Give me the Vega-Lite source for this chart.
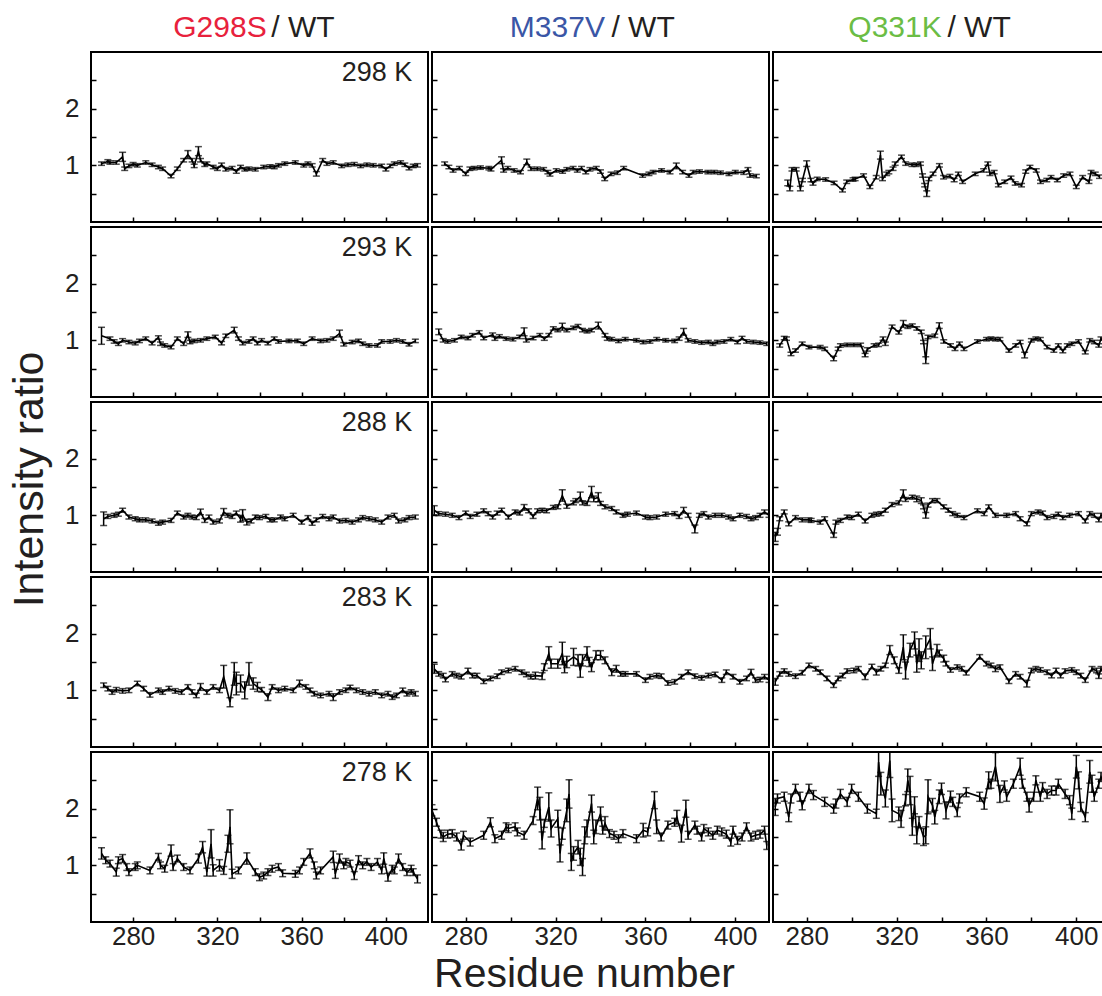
{
"$schema":"https://vega.github.io/schema/vega-lite/v6.json",
"padding":{"left":7,"top":12,"right":0,"bottom":0},
"config":{"font":"Liberation Sans","view":{"stroke":"black","strokeWidth":2},
"axis":{"domain":false,"grid":false,"tickColor":"black","tickSize":-5,"tickWidth":1.5,"labelFontSize":26,"labelColor":"#231f20","titleFontWeight":"normal","titleColor":"#231f20","labelFont":"Liberation Sans","titleFont":"Liberation Sans"},
"axisX":{"labelPadding":6},"axisY":{"labelPadding":17},
"line":{"color":"black","strokeWidth":1.6,"clip":true},
"text":{"baseline":"middle","color":"#231f20"}},
"datasets":{
"G298":[{"r":265,"v":1.03,"e":0.03},{"r":268,"v":1.07,"e":0.03},{"r":269,"v":1.05,"e":0.03},{"r":272,"v":1.05,"e":0.03},{"r":275,"v":1.15,"e":0.08},{"r":276,"v":0.94,"e":0.03},{"r":278,"v":0.99,"e":0.03},{"r":280,"v":1.02,"e":0.03},{"r":282,"v":1.0,"e":0.03},{"r":286,"v":1.05,"e":0.03},{"r":289,"v":1.01,"e":0.03},{"r":292,"v":0.97,"e":0.03},{"r":294,"v":0.94,"e":0.03},{"r":298,"v":0.81,"e":0.03},{"r":301,"v":0.94,"e":0.03},{"r":304,"v":1.09,"e":0.03},{"r":306,"v":1.19,"e":0.07},{"r":308,"v":1.09,"e":0.03},{"r":309,"v":0.99,"e":0.03},{"r":311,"v":1.25,"e":0.08},{"r":312,"v":1.09,"e":0.03},{"r":314,"v":1.01,"e":0.03},{"r":315,"v":1.03,"e":0.03},{"r":318,"v":0.97,"e":0.03},{"r":320,"v":0.94,"e":0.03},{"r":322,"v":1.01,"e":0.03},{"r":324,"v":0.93,"e":0.03},{"r":327,"v":0.95,"e":0.03},{"r":329,"v":0.89,"e":0.03},{"r":331,"v":0.97,"e":0.03},{"r":333,"v":0.93,"e":0.03},{"r":335,"v":0.94,"e":0.03},{"r":338,"v":0.93,"e":0.03},{"r":342,"v":0.97,"e":0.03},{"r":345,"v":0.98,"e":0.03},{"r":347,"v":0.97,"e":0.03},{"r":349,"v":1.0,"e":0.03},{"r":352,"v":1.03,"e":0.03},{"r":357,"v":1.05,"e":0.03},{"r":361,"v":1.0,"e":0.03},{"r":363,"v":1.03,"e":0.03},{"r":365,"v":1.0,"e":0.03},{"r":367,"v":0.85,"e":0.04},{"r":370,"v":1.09,"e":0.03},{"r":372,"v":1.03,"e":0.03},{"r":375,"v":1.05,"e":0.03},{"r":379,"v":0.99,"e":0.03},{"r":382,"v":1.01,"e":0.03},{"r":385,"v":1.02,"e":0.03},{"r":388,"v":0.99,"e":0.03},{"r":391,"v":1.01,"e":0.03},{"r":394,"v":1.0,"e":0.03},{"r":398,"v":0.99,"e":0.03},{"r":400,"v":0.93,"e":0.03},{"r":402,"v":0.99,"e":0.03},{"r":404,"v":1.03,"e":0.03},{"r":407,"v":1.05,"e":0.03},{"r":409,"v":1.01,"e":0.03},{"r":411,"v":0.95,"e":0.03},{"r":413,"v":0.99,"e":0.03},{"r":415,"v":1.0,"e":0.03}],
"G293":[{"r":265,"v":1.08,"e":0.15},{"r":269,"v":1.03,"e":0.03},{"r":271,"v":0.98,"e":0.03},{"r":273,"v":0.94,"e":0.03},{"r":275,"v":1.0,"e":0.03},{"r":278,"v":0.97,"e":0.03},{"r":281,"v":0.95,"e":0.03},{"r":283,"v":0.99,"e":0.03},{"r":286,"v":1.03,"e":0.03},{"r":289,"v":0.95,"e":0.03},{"r":292,"v":1.05,"e":0.03},{"r":293,"v":0.94,"e":0.03},{"r":295,"v":0.91,"e":0.03},{"r":298,"v":0.88,"e":0.03},{"r":301,"v":1.03,"e":0.03},{"r":304,"v":0.94,"e":0.03},{"r":306,"v":1.1,"e":0.05},{"r":307,"v":0.97,"e":0.03},{"r":309,"v":0.99,"e":0.03},{"r":312,"v":1.0,"e":0.03},{"r":315,"v":1.03,"e":0.03},{"r":319,"v":1.06,"e":0.03},{"r":322,"v":0.95,"e":0.03},{"r":324,"v":1.08,"e":0.03},{"r":328,"v":1.18,"e":0.05},{"r":330,"v":1.03,"e":0.03},{"r":332,"v":0.95,"e":0.03},{"r":335,"v":0.98,"e":0.03},{"r":337,"v":1.03,"e":0.03},{"r":339,"v":0.95,"e":0.03},{"r":341,"v":1.0,"e":0.03},{"r":344,"v":0.95,"e":0.03},{"r":347,"v":1.03,"e":0.03},{"r":349,"v":0.98,"e":0.03},{"r":354,"v":0.99,"e":0.03},{"r":358,"v":0.99,"e":0.03},{"r":361,"v":0.94,"e":0.03},{"r":365,"v":1.03,"e":0.03},{"r":369,"v":0.99,"e":0.03},{"r":372,"v":1.0,"e":0.03},{"r":375,"v":1.03,"e":0.03},{"r":378,"v":1.12,"e":0.06},{"r":380,"v":0.93,"e":0.03},{"r":384,"v":0.97,"e":0.03},{"r":387,"v":0.99,"e":0.03},{"r":389,"v":0.94,"e":0.03},{"r":392,"v":0.91,"e":0.03},{"r":396,"v":0.91,"e":0.03},{"r":398,"v":0.98,"e":0.03},{"r":402,"v":0.98,"e":0.03},{"r":405,"v":1.0,"e":0.03},{"r":408,"v":0.98,"e":0.03},{"r":411,"v":0.93,"e":0.03},{"r":414,"v":0.99,"e":0.03}],
"G288":[{"r":266,"v":0.94,"e":0.12},{"r":268,"v":0.98,"e":0.035},{"r":271,"v":1.0,"e":0.035},{"r":273,"v":1.02,"e":0.035},{"r":275,"v":1.09,"e":0.035},{"r":278,"v":0.97,"e":0.035},{"r":281,"v":0.94,"e":0.035},{"r":283,"v":0.92,"e":0.035},{"r":286,"v":0.92,"e":0.035},{"r":289,"v":0.9,"e":0.035},{"r":292,"v":0.86,"e":0.035},{"r":294,"v":0.88,"e":0.035},{"r":298,"v":0.91,"e":0.035},{"r":301,"v":1.04,"e":0.035},{"r":304,"v":0.97,"e":0.035},{"r":306,"v":1.0,"e":0.035},{"r":308,"v":0.97,"e":0.035},{"r":310,"v":0.96,"e":0.035},{"r":312,"v":1.06,"e":0.05},{"r":314,"v":0.91,"e":0.035},{"r":316,"v":0.97,"e":0.035},{"r":318,"v":0.88,"e":0.035},{"r":321,"v":0.9,"e":0.035},{"r":323,"v":1.06,"e":0.06},{"r":325,"v":1.0,"e":0.035},{"r":327,"v":0.98,"e":0.035},{"r":329,"v":1.04,"e":0.035},{"r":331,"v":0.94,"e":0.06},{"r":332,"v":1.0,"e":0.1},{"r":334,"v":0.88,"e":0.05},{"r":336,"v":0.9,"e":0.035},{"r":338,"v":0.97,"e":0.035},{"r":340,"v":0.96,"e":0.035},{"r":343,"v":0.98,"e":0.035},{"r":345,"v":0.92,"e":0.035},{"r":347,"v":0.92,"e":0.035},{"r":350,"v":0.97,"e":0.035},{"r":352,"v":0.94,"e":0.035},{"r":356,"v":1.0,"e":0.035},{"r":360,"v":0.88,"e":0.035},{"r":363,"v":0.96,"e":0.035},{"r":365,"v":0.86,"e":0.035},{"r":367,"v":0.92,"e":0.035},{"r":370,"v":0.98,"e":0.035},{"r":373,"v":0.94,"e":0.035},{"r":375,"v":0.97,"e":0.035},{"r":378,"v":0.9,"e":0.035},{"r":381,"v":0.91,"e":0.035},{"r":384,"v":0.88,"e":0.035},{"r":387,"v":0.92,"e":0.035},{"r":389,"v":0.96,"e":0.035},{"r":392,"v":0.94,"e":0.035},{"r":395,"v":0.92,"e":0.035},{"r":398,"v":0.88,"e":0.035},{"r":401,"v":0.97,"e":0.035},{"r":404,"v":1.0,"e":0.035},{"r":406,"v":0.9,"e":0.035},{"r":409,"v":0.92,"e":0.035},{"r":411,"v":0.96,"e":0.035},{"r":414,"v":0.97,"e":0.035}],
"G283":[{"r":266,"v":1.09,"e":0.04},{"r":268,"v":1.03,"e":0.04},{"r":270,"v":0.97,"e":0.04},{"r":272,"v":1.01,"e":0.04},{"r":275,"v":0.99,"e":0.04},{"r":278,"v":1.0,"e":0.04},{"r":282,"v":1.12,"e":0.04},{"r":285,"v":1.03,"e":0.04},{"r":288,"v":0.92,"e":0.04},{"r":292,"v":1.0,"e":0.04},{"r":294,"v":0.97,"e":0.04},{"r":297,"v":1.03,"e":0.04},{"r":300,"v":0.99,"e":0.04},{"r":303,"v":0.97,"e":0.04},{"r":306,"v":1.06,"e":0.04},{"r":308,"v":0.97,"e":0.04},{"r":310,"v":0.91,"e":0.04},{"r":312,"v":1.06,"e":0.06},{"r":315,"v":0.97,"e":0.04},{"r":318,"v":1.06,"e":0.04},{"r":321,"v":1.0,"e":0.04},{"r":323,"v":1.24,"e":0.2},{"r":326,"v":0.79,"e":0.08},{"r":328,"v":1.29,"e":0.2},{"r":329,"v":1.12,"e":0.2},{"r":331,"v":1.12,"e":0.15},{"r":333,"v":1.0,"e":0.15},{"r":335,"v":1.29,"e":0.2},{"r":337,"v":1.12,"e":0.1},{"r":339,"v":1.06,"e":0.08},{"r":341,"v":1.01,"e":0.04},{"r":344,"v":0.88,"e":0.06},{"r":346,"v":1.06,"e":0.04},{"r":349,"v":1.0,"e":0.04},{"r":352,"v":1.03,"e":0.04},{"r":356,"v":1.0,"e":0.04},{"r":359,"v":1.12,"e":0.06},{"r":362,"v":1.06,"e":0.04},{"r":364,"v":1.0,"e":0.04},{"r":366,"v":0.94,"e":0.04},{"r":369,"v":0.91,"e":0.04},{"r":373,"v":0.94,"e":0.04},{"r":375,"v":0.88,"e":0.06},{"r":378,"v":0.97,"e":0.04},{"r":381,"v":1.0,"e":0.04},{"r":383,"v":1.05,"e":0.04},{"r":386,"v":1.0,"e":0.04},{"r":389,"v":0.97,"e":0.04},{"r":392,"v":0.94,"e":0.04},{"r":395,"v":0.97,"e":0.04},{"r":398,"v":0.91,"e":0.04},{"r":401,"v":0.94,"e":0.04},{"r":403,"v":0.88,"e":0.04},{"r":405,"v":0.91,"e":0.04},{"r":408,"v":1.0,"e":0.04},{"r":410,"v":0.94,"e":0.04},{"r":412,"v":0.97,"e":0.04},{"r":414,"v":0.94,"e":0.04}],
"G278":[{"r":265,"v":1.21,"e":0.1},{"r":267,"v":1.09,"e":0.06},{"r":269,"v":1.03,"e":0.06},{"r":272,"v":0.88,"e":0.07},{"r":273,"v":1.09,"e":0.06},{"r":275,"v":1.12,"e":0.07},{"r":277,"v":0.97,"e":0.06},{"r":278,"v":0.88,"e":0.06},{"r":281,"v":0.97,"e":0.06},{"r":282,"v":1.0,"e":0.06},{"r":288,"v":0.91,"e":0.06},{"r":292,"v":1.15,"e":0.06},{"r":293,"v":1.0,"e":0.06},{"r":295,"v":0.94,"e":0.06},{"r":298,"v":1.26,"e":0.1},{"r":299,"v":0.97,"e":0.06},{"r":301,"v":1.12,"e":0.06},{"r":304,"v":0.97,"e":0.06},{"r":307,"v":0.91,"e":0.06},{"r":311,"v":1.12,"e":0.08},{"r":313,"v":1.32,"e":0.1},{"r":315,"v":0.88,"e":0.07},{"r":317,"v":1.38,"e":0.25},{"r":318,"v":0.91,"e":0.1},{"r":321,"v":1.0,"e":0.1},{"r":323,"v":0.91,"e":0.07},{"r":325,"v":1.38,"e":0.15},{"r":326,"v":1.68,"e":0.3},{"r":327,"v":0.85,"e":0.08},{"r":330,"v":0.91,"e":0.06},{"r":334,"v":1.12,"e":0.1},{"r":338,"v":0.88,"e":0.06},{"r":340,"v":0.79,"e":0.06},{"r":342,"v":0.82,"e":0.06},{"r":344,"v":0.88,"e":0.06},{"r":346,"v":0.94,"e":0.06},{"r":349,"v":0.97,"e":0.06},{"r":351,"v":0.86,"e":0.06},{"r":357,"v":0.85,"e":0.06},{"r":359,"v":0.91,"e":0.06},{"r":361,"v":1.06,"e":0.06},{"r":364,"v":1.21,"e":0.08},{"r":366,"v":1.0,"e":0.06},{"r":367,"v":0.82,"e":0.06},{"r":369,"v":0.91,"e":0.06},{"r":375,"v":1.15,"e":0.1},{"r":376,"v":0.85,"e":0.08},{"r":378,"v":1.12,"e":0.08},{"r":380,"v":1.0,"e":0.06},{"r":381,"v":1.06,"e":0.06},{"r":383,"v":1.03,"e":0.06},{"r":385,"v":0.82,"e":0.07},{"r":387,"v":1.09,"e":0.08},{"r":389,"v":1.0,"e":0.06},{"r":391,"v":1.06,"e":0.06},{"r":393,"v":0.97,"e":0.06},{"r":396,"v":1.06,"e":0.06},{"r":398,"v":0.91,"e":0.06},{"r":399,"v":1.12,"e":0.1},{"r":401,"v":0.79,"e":0.07},{"r":403,"v":0.94,"e":0.06},{"r":404,"v":0.91,"e":0.06},{"r":406,"v":1.12,"e":0.08},{"r":408,"v":0.97,"e":0.06},{"r":410,"v":0.88,"e":0.06},{"r":412,"v":0.94,"e":0.06},{"r":413,"v":0.88,"e":0.06},{"r":415,"v":0.76,"e":0.07}],
"M298":[{"r":266,"v":1.03,"e":0.03},{"r":268,"v":0.97,"e":0.03},{"r":270,"v":0.91,"e":0.03},{"r":273,"v":0.95,"e":0.03},{"r":276,"v":0.85,"e":0.03},{"r":278,"v":0.94,"e":0.03},{"r":280,"v":0.95,"e":0.03},{"r":283,"v":0.96,"e":0.03},{"r":287,"v":0.95,"e":0.03},{"r":288,"v":0.93,"e":0.03},{"r":293,"v":1.09,"e":0.06},{"r":294,"v":0.91,"e":0.03},{"r":296,"v":0.95,"e":0.03},{"r":299,"v":0.91,"e":0.03},{"r":302,"v":0.88,"e":0.03},{"r":305,"v":1.06,"e":0.05},{"r":307,"v":0.94,"e":0.03},{"r":310,"v":0.94,"e":0.03},{"r":313,"v":0.93,"e":0.03},{"r":315,"v":0.88,"e":0.03},{"r":316,"v":0.84,"e":0.03},{"r":319,"v":0.91,"e":0.03},{"r":322,"v":0.89,"e":0.03},{"r":324,"v":0.93,"e":0.03},{"r":327,"v":0.95,"e":0.03},{"r":329,"v":0.91,"e":0.03},{"r":331,"v":0.95,"e":0.03},{"r":333,"v":0.88,"e":0.03},{"r":335,"v":0.93,"e":0.03},{"r":338,"v":0.95,"e":0.03},{"r":340,"v":0.89,"e":0.03},{"r":342,"v":0.76,"e":0.03},{"r":345,"v":0.85,"e":0.03},{"r":348,"v":0.87,"e":0.03},{"r":351,"v":0.95,"e":0.03},{"r":360,"v":0.82,"e":0.03},{"r":363,"v":0.85,"e":0.03},{"r":365,"v":0.88,"e":0.03},{"r":369,"v":0.91,"e":0.03},{"r":373,"v":0.88,"e":0.03},{"r":376,"v":0.99,"e":0.05},{"r":379,"v":0.88,"e":0.03},{"r":382,"v":0.82,"e":0.03},{"r":384,"v":0.88,"e":0.03},{"r":387,"v":0.89,"e":0.03},{"r":391,"v":0.88,"e":0.03},{"r":394,"v":0.88,"e":0.03},{"r":397,"v":0.87,"e":0.03},{"r":401,"v":0.85,"e":0.03},{"r":404,"v":0.88,"e":0.03},{"r":408,"v":0.87,"e":0.03},{"r":410,"v":0.93,"e":0.03},{"r":411,"v":0.82,"e":0.03},{"r":414,"v":0.81,"e":0.03}],
"M293":[{"r":268,"v":1.15,"e":0.05},{"r":270,"v":1.0,"e":0.03},{"r":272,"v":0.98,"e":0.03},{"r":275,"v":1.0,"e":0.03},{"r":278,"v":1.06,"e":0.03},{"r":281,"v":1.04,"e":0.03},{"r":283,"v":1.09,"e":0.03},{"r":286,"v":1.14,"e":0.03},{"r":288,"v":1.04,"e":0.03},{"r":292,"v":1.1,"e":0.03},{"r":293,"v":1.03,"e":0.03},{"r":295,"v":1.07,"e":0.03},{"r":298,"v":1.03,"e":0.03},{"r":301,"v":1.02,"e":0.03},{"r":304,"v":1.06,"e":0.03},{"r":306,"v":1.15,"e":0.07},{"r":307,"v":1.0,"e":0.03},{"r":310,"v":1.04,"e":0.03},{"r":313,"v":1.09,"e":0.03},{"r":315,"v":1.03,"e":0.03},{"r":317,"v":1.09,"e":0.03},{"r":319,"v":1.21,"e":0.03},{"r":321,"v":1.18,"e":0.03},{"r":323,"v":1.24,"e":0.06},{"r":325,"v":1.18,"e":0.03},{"r":328,"v":1.22,"e":0.03},{"r":330,"v":1.25,"e":0.03},{"r":332,"v":1.18,"e":0.03},{"r":334,"v":1.16,"e":0.03},{"r":336,"v":1.18,"e":0.03},{"r":339,"v":1.26,"e":0.06},{"r":342,"v":1.09,"e":0.03},{"r":343,"v":1.03,"e":0.03},{"r":345,"v":1.02,"e":0.03},{"r":348,"v":0.99,"e":0.03},{"r":351,"v":1.02,"e":0.03},{"r":356,"v":1.0,"e":0.03},{"r":359,"v":0.97,"e":0.03},{"r":362,"v":0.98,"e":0.03},{"r":365,"v":1.02,"e":0.03},{"r":369,"v":1.0,"e":0.03},{"r":373,"v":0.99,"e":0.03},{"r":375,"v":1.03,"e":0.03},{"r":377,"v":1.15,"e":0.06},{"r":379,"v":1.0,"e":0.03},{"r":382,"v":0.98,"e":0.03},{"r":385,"v":0.96,"e":0.03},{"r":388,"v":0.97,"e":0.03},{"r":390,"v":0.94,"e":0.03},{"r":392,"v":0.97,"e":0.03},{"r":395,"v":0.98,"e":0.03},{"r":398,"v":1.02,"e":0.03},{"r":401,"v":0.97,"e":0.03},{"r":403,"v":1.04,"e":0.03},{"r":405,"v":0.98,"e":0.03},{"r":408,"v":0.97,"e":0.03},{"r":411,"v":0.96,"e":0.03},{"r":414,"v":0.94,"e":0.03}],
"M288":[{"r":266,"v":1.09,"e":0.08},{"r":268,"v":1.03,"e":0.035},{"r":271,"v":1.02,"e":0.035},{"r":274,"v":1.0,"e":0.035},{"r":277,"v":0.96,"e":0.035},{"r":280,"v":1.04,"e":0.035},{"r":282,"v":0.98,"e":0.035},{"r":285,"v":1.02,"e":0.035},{"r":288,"v":1.08,"e":0.035},{"r":290,"v":1.03,"e":0.035},{"r":292,"v":0.97,"e":0.035},{"r":294,"v":1.04,"e":0.035},{"r":296,"v":1.09,"e":0.035},{"r":299,"v":0.97,"e":0.035},{"r":302,"v":1.06,"e":0.035},{"r":304,"v":1.04,"e":0.035},{"r":306,"v":1.14,"e":0.05},{"r":308,"v":1.08,"e":0.035},{"r":310,"v":0.98,"e":0.035},{"r":312,"v":1.08,"e":0.035},{"r":314,"v":1.09,"e":0.035},{"r":316,"v":1.08,"e":0.035},{"r":319,"v":1.14,"e":0.035},{"r":321,"v":1.15,"e":0.035},{"r":323,"v":1.35,"e":0.1},{"r":325,"v":1.16,"e":0.035},{"r":328,"v":1.22,"e":0.035},{"r":329,"v":1.26,"e":0.035},{"r":331,"v":1.33,"e":0.08},{"r":332,"v":1.22,"e":0.035},{"r":334,"v":1.21,"e":0.035},{"r":336,"v":1.41,"e":0.1},{"r":337,"v":1.29,"e":0.05},{"r":339,"v":1.32,"e":0.08},{"r":340,"v":1.21,"e":0.035},{"r":342,"v":1.15,"e":0.035},{"r":345,"v":1.12,"e":0.035},{"r":347,"v":1.06,"e":0.035},{"r":350,"v":1.0,"e":0.035},{"r":352,"v":1.02,"e":0.035},{"r":356,"v":1.04,"e":0.035},{"r":360,"v":0.97,"e":0.035},{"r":362,"v":0.96,"e":0.035},{"r":365,"v":0.97,"e":0.035},{"r":369,"v":1.02,"e":0.035},{"r":373,"v":1.03,"e":0.035},{"r":375,"v":0.98,"e":0.035},{"r":377,"v":1.09,"e":0.05},{"r":379,"v":1.0,"e":0.035},{"r":382,"v":0.76,"e":0.07},{"r":384,"v":1.0,"e":0.035},{"r":386,"v":1.03,"e":0.035},{"r":388,"v":0.97,"e":0.035},{"r":391,"v":1.0,"e":0.035},{"r":394,"v":1.0,"e":0.035},{"r":397,"v":0.97,"e":0.035},{"r":399,"v":0.94,"e":0.035},{"r":402,"v":1.0,"e":0.035},{"r":405,"v":0.98,"e":0.035},{"r":407,"v":0.94,"e":0.035},{"r":409,"v":0.96,"e":0.035},{"r":411,"v":1.0,"e":0.035},{"r":413,"v":1.06,"e":0.035},{"r":415,"v":1.0,"e":0.035}],
"M283":[{"r":266,"v":1.38,"e":0.08},{"r":268,"v":1.29,"e":0.04},{"r":270,"v":1.26,"e":0.04},{"r":271,"v":1.19,"e":0.04},{"r":274,"v":1.29,"e":0.04},{"r":276,"v":1.26,"e":0.04},{"r":278,"v":1.24,"e":0.04},{"r":281,"v":1.34,"e":0.05},{"r":283,"v":1.26,"e":0.04},{"r":285,"v":1.26,"e":0.04},{"r":288,"v":1.16,"e":0.04},{"r":291,"v":1.21,"e":0.04},{"r":294,"v":1.25,"e":0.04},{"r":296,"v":1.32,"e":0.04},{"r":299,"v":1.35,"e":0.04},{"r":302,"v":1.38,"e":0.04},{"r":305,"v":1.32,"e":0.04},{"r":307,"v":1.28,"e":0.04},{"r":309,"v":1.24,"e":0.04},{"r":311,"v":1.26,"e":0.06},{"r":314,"v":1.25,"e":0.06},{"r":315,"v":1.41,"e":0.06},{"r":317,"v":1.65,"e":0.12},{"r":318,"v":1.47,"e":0.08},{"r":321,"v":1.47,"e":0.08},{"r":323,"v":1.65,"e":0.2},{"r":324,"v":1.41,"e":0.1},{"r":325,"v":1.5,"e":0.1},{"r":328,"v":1.59,"e":0.15},{"r":330,"v":1.53,"e":0.1},{"r":331,"v":1.35,"e":0.12},{"r":332,"v":1.53,"e":0.1},{"r":334,"v":1.65,"e":0.12},{"r":335,"v":1.5,"e":0.08},{"r":336,"v":1.41,"e":0.08},{"r":338,"v":1.62,"e":0.08},{"r":340,"v":1.62,"e":0.08},{"r":342,"v":1.53,"e":0.06},{"r":345,"v":1.32,"e":0.06},{"r":347,"v":1.38,"e":0.06},{"r":349,"v":1.29,"e":0.04},{"r":351,"v":1.29,"e":0.04},{"r":356,"v":1.29,"e":0.04},{"r":360,"v":1.18,"e":0.04},{"r":362,"v":1.24,"e":0.04},{"r":365,"v":1.26,"e":0.04},{"r":367,"v":1.25,"e":0.04},{"r":370,"v":1.13,"e":0.04},{"r":373,"v":1.15,"e":0.04},{"r":376,"v":1.24,"e":0.04},{"r":379,"v":1.32,"e":0.04},{"r":382,"v":1.25,"e":0.04},{"r":385,"v":1.22,"e":0.04},{"r":388,"v":1.26,"e":0.04},{"r":391,"v":1.28,"e":0.04},{"r":394,"v":1.18,"e":0.04},{"r":396,"v":1.32,"e":0.04},{"r":399,"v":1.24,"e":0.04},{"r":402,"v":1.15,"e":0.04},{"r":405,"v":1.21,"e":0.04},{"r":407,"v":1.32,"e":0.05},{"r":409,"v":1.18,"e":0.04},{"r":411,"v":1.19,"e":0.04},{"r":413,"v":1.24,"e":0.04},{"r":415,"v":1.18,"e":0.04}],
"M278":[{"r":265,"v":1.97,"e":0.1},{"r":267,"v":1.76,"e":0.07},{"r":269,"v":1.55,"e":0.07},{"r":270,"v":1.5,"e":0.08},{"r":272,"v":1.55,"e":0.07},{"r":274,"v":1.56,"e":0.07},{"r":276,"v":1.5,"e":0.07},{"r":278,"v":1.35,"e":0.08},{"r":279,"v":1.53,"e":0.07},{"r":282,"v":1.41,"e":0.07},{"r":288,"v":1.53,"e":0.07},{"r":291,"v":1.76,"e":0.08},{"r":293,"v":1.47,"e":0.07},{"r":296,"v":1.53,"e":0.07},{"r":298,"v":1.68,"e":0.07},{"r":299,"v":1.65,"e":0.07},{"r":302,"v":1.68,"e":0.07},{"r":303,"v":1.59,"e":0.07},{"r":306,"v":1.53,"e":0.07},{"r":310,"v":1.79,"e":0.07},{"r":312,"v":2.18,"e":0.2},{"r":313,"v":2.0,"e":0.2},{"r":314,"v":1.44,"e":0.15},{"r":315,"v":1.74,"e":0.07},{"r":317,"v":2.03,"e":0.25},{"r":318,"v":1.65,"e":0.15},{"r":321,"v":1.82,"e":0.15},{"r":322,"v":1.21,"e":0.15},{"r":323,"v":1.56,"e":0.1},{"r":325,"v":1.97,"e":0.2},{"r":326,"v":2.26,"e":0.25},{"r":327,"v":1.06,"e":0.15},{"r":328,"v":1.21,"e":0.12},{"r":330,"v":1.32,"e":0.12},{"r":331,"v":1.15,"e":0.15},{"r":332,"v":0.97,"e":0.15},{"r":333,"v":1.53,"e":0.15},{"r":334,"v":1.65,"e":0.15},{"r":336,"v":2.09,"e":0.15},{"r":337,"v":1.5,"e":0.12},{"r":338,"v":1.68,"e":0.12},{"r":340,"v":1.91,"e":0.12},{"r":341,"v":1.62,"e":0.07},{"r":342,"v":1.74,"e":0.12},{"r":344,"v":1.56,"e":0.07},{"r":346,"v":1.53,"e":0.07},{"r":348,"v":1.47,"e":0.07},{"r":350,"v":1.56,"e":0.07},{"r":356,"v":1.47,"e":0.07},{"r":359,"v":1.62,"e":0.12},{"r":361,"v":1.59,"e":0.07},{"r":364,"v":2.15,"e":0.15},{"r":365,"v":1.68,"e":0.12},{"r":367,"v":1.5,"e":0.07},{"r":370,"v":1.71,"e":0.07},{"r":373,"v":1.76,"e":0.07},{"r":374,"v":1.85,"e":0.12},{"r":376,"v":1.56,"e":0.15},{"r":378,"v":2.0,"e":0.15},{"r":379,"v":1.53,"e":0.07},{"r":382,"v":1.71,"e":0.07},{"r":383,"v":1.62,"e":0.07},{"r":385,"v":1.5,"e":0.07},{"r":386,"v":1.65,"e":0.07},{"r":388,"v":1.59,"e":0.07},{"r":390,"v":1.53,"e":0.07},{"r":392,"v":1.62,"e":0.07},{"r":394,"v":1.59,"e":0.07},{"r":396,"v":1.55,"e":0.07},{"r":398,"v":1.41,"e":0.07},{"r":399,"v":1.62,"e":0.07},{"r":401,"v":1.44,"e":0.07},{"r":403,"v":1.5,"e":0.07},{"r":405,"v":1.68,"e":0.07},{"r":407,"v":1.5,"e":0.07},{"r":409,"v":1.53,"e":0.07},{"r":411,"v":1.55,"e":0.07},{"r":413,"v":1.62,"e":0.07},{"r":414,"v":1.35,"e":0.07}],
"Q298":[{"r":267,"v":0.69,"e":0.05},{"r":268,"v":0.59,"e":0.04},{"r":269,"v":0.93,"e":0.03},{"r":271,"v":0.93,"e":0.03},{"r":273,"v":0.59,"e":0.04},{"r":274,"v":0.74,"e":0.03},{"r":276,"v":1.03,"e":0.05},{"r":278,"v":0.74,"e":0.03},{"r":279,"v":0.68,"e":0.03},{"r":281,"v":0.76,"e":0.03},{"r":285,"v":0.75,"e":0.03},{"r":289,"v":0.69,"e":0.03},{"r":293,"v":0.56,"e":0.03},{"r":295,"v":0.71,"e":0.03},{"r":298,"v":0.75,"e":0.03},{"r":299,"v":0.76,"e":0.03},{"r":303,"v":0.82,"e":0.03},{"r":306,"v":0.62,"e":0.03},{"r":309,"v":0.79,"e":0.03},{"r":311,"v":1.18,"e":0.07},{"r":312,"v":0.76,"e":0.03},{"r":314,"v":0.85,"e":0.03},{"r":315,"v":0.88,"e":0.03},{"r":317,"v":0.94,"e":0.03},{"r":318,"v":1.03,"e":0.03},{"r":321,"v":1.15,"e":0.03},{"r":323,"v":1.03,"e":0.03},{"r":326,"v":1.01,"e":0.03},{"r":328,"v":1.01,"e":0.03},{"r":330,"v":1.03,"e":0.03},{"r":331,"v":0.82,"e":0.03},{"r":332,"v":0.65,"e":0.03},{"r":333,"v":0.5,"e":0.05},{"r":334,"v":0.76,"e":0.03},{"r":336,"v":0.85,"e":0.03},{"r":339,"v":1.0,"e":0.03},{"r":341,"v":0.79,"e":0.03},{"r":344,"v":0.81,"e":0.03},{"r":346,"v":0.74,"e":0.03},{"r":348,"v":0.85,"e":0.03},{"r":350,"v":0.71,"e":0.03},{"r":356,"v":0.85,"e":0.03},{"r":360,"v":0.91,"e":0.03},{"r":362,"v":1.03,"e":0.03},{"r":363,"v":0.85,"e":0.03},{"r":365,"v":0.88,"e":0.03},{"r":367,"v":0.65,"e":0.03},{"r":370,"v":0.71,"e":0.03},{"r":373,"v":0.78,"e":0.03},{"r":375,"v":0.68,"e":0.03},{"r":378,"v":0.65,"e":0.03},{"r":380,"v":0.89,"e":0.03},{"r":382,"v":0.97,"e":0.03},{"r":385,"v":0.91,"e":0.03},{"r":387,"v":0.71,"e":0.03},{"r":390,"v":0.74,"e":0.03},{"r":392,"v":0.79,"e":0.03},{"r":395,"v":0.74,"e":0.03},{"r":398,"v":0.82,"e":0.03},{"r":401,"v":0.85,"e":0.03},{"r":404,"v":0.62,"e":0.03},{"r":407,"v":0.79,"e":0.03},{"r":410,"v":0.71,"e":0.03},{"r":411,"v":0.88,"e":0.03},{"r":413,"v":0.85,"e":0.03},{"r":415,"v":0.8,"e":0.03}],
"Q293":[{"r":268,"v":0.91,"e":0.03},{"r":270,"v":1.04,"e":0.03},{"r":271,"v":1.03,"e":0.03},{"r":273,"v":0.76,"e":0.03},{"r":275,"v":0.82,"e":0.03},{"r":278,"v":0.94,"e":0.03},{"r":281,"v":0.88,"e":0.03},{"r":286,"v":0.88,"e":0.03},{"r":288,"v":0.85,"e":0.03},{"r":292,"v":0.68,"e":0.04},{"r":294,"v":0.85,"e":0.03},{"r":295,"v":0.91,"e":0.03},{"r":298,"v":0.92,"e":0.03},{"r":301,"v":0.92,"e":0.03},{"r":304,"v":0.92,"e":0.03},{"r":306,"v":0.74,"e":0.03},{"r":307,"v":0.84,"e":0.03},{"r":310,"v":0.91,"e":0.03},{"r":312,"v":0.92,"e":0.03},{"r":314,"v":1.03,"e":0.03},{"r":315,"v":0.94,"e":0.03},{"r":318,"v":1.24,"e":0.03},{"r":321,"v":1.14,"e":0.03},{"r":323,"v":1.29,"e":0.06},{"r":325,"v":1.24,"e":0.03},{"r":327,"v":1.26,"e":0.03},{"r":329,"v":1.21,"e":0.03},{"r":331,"v":1.15,"e":0.03},{"r":332,"v":0.97,"e":0.03},{"r":333,"v":0.65,"e":0.06},{"r":334,"v":1.06,"e":0.03},{"r":337,"v":1.08,"e":0.03},{"r":339,"v":1.26,"e":0.05},{"r":341,"v":0.98,"e":0.03},{"r":344,"v":0.91,"e":0.03},{"r":346,"v":0.85,"e":0.03},{"r":348,"v":0.94,"e":0.03},{"r":350,"v":0.85,"e":0.03},{"r":356,"v":0.98,"e":0.03},{"r":360,"v":1.02,"e":0.03},{"r":362,"v":1.03,"e":0.03},{"r":364,"v":1.02,"e":0.03},{"r":366,"v":1.02,"e":0.03},{"r":370,"v":0.82,"e":0.03},{"r":373,"v":0.91,"e":0.03},{"r":375,"v":0.97,"e":0.03},{"r":377,"v":0.74,"e":0.05},{"r":380,"v":1.0,"e":0.03},{"r":382,"v":1.03,"e":0.03},{"r":384,"v":1.02,"e":0.03},{"r":387,"v":0.88,"e":0.03},{"r":390,"v":0.82,"e":0.03},{"r":392,"v":0.91,"e":0.03},{"r":394,"v":0.81,"e":0.03},{"r":396,"v":0.91,"e":0.03},{"r":398,"v":0.94,"e":0.03},{"r":401,"v":0.98,"e":0.03},{"r":404,"v":0.79,"e":0.03},{"r":406,"v":1.0,"e":0.03},{"r":408,"v":0.97,"e":0.03},{"r":410,"v":0.91,"e":0.03},{"r":411,"v":1.03,"e":0.03},{"r":413,"v":0.95,"e":0.03},{"r":415,"v":0.92,"e":0.03}],
"Q288":[{"r":266,"v":0.62,"e":0.08},{"r":267,"v":0.71,"e":0.06},{"r":268,"v":0.94,"e":0.035},{"r":270,"v":1.06,"e":0.035},{"r":272,"v":0.85,"e":0.035},{"r":275,"v":0.96,"e":0.035},{"r":278,"v":0.92,"e":0.035},{"r":281,"v":0.92,"e":0.035},{"r":282,"v":0.91,"e":0.035},{"r":286,"v":0.88,"e":0.035},{"r":288,"v":0.94,"e":0.035},{"r":292,"v":0.65,"e":0.04},{"r":293,"v":0.88,"e":0.035},{"r":295,"v":0.91,"e":0.035},{"r":298,"v":0.97,"e":0.035},{"r":300,"v":0.96,"e":0.035},{"r":303,"v":1.02,"e":0.035},{"r":306,"v":0.9,"e":0.035},{"r":309,"v":1.0,"e":0.035},{"r":311,"v":1.02,"e":0.035},{"r":313,"v":1.03,"e":0.035},{"r":315,"v":1.09,"e":0.035},{"r":318,"v":1.19,"e":0.035},{"r":321,"v":1.22,"e":0.035},{"r":323,"v":1.38,"e":0.07},{"r":324,"v":1.28,"e":0.035},{"r":327,"v":1.32,"e":0.035},{"r":329,"v":1.29,"e":0.05},{"r":331,"v":1.26,"e":0.05},{"r":332,"v":1.15,"e":0.035},{"r":333,"v":1.0,"e":0.05},{"r":334,"v":1.18,"e":0.035},{"r":336,"v":1.26,"e":0.035},{"r":338,"v":1.26,"e":0.035},{"r":341,"v":1.15,"e":0.035},{"r":343,"v":1.09,"e":0.035},{"r":345,"v":1.03,"e":0.035},{"r":347,"v":1.0,"e":0.035},{"r":350,"v":0.96,"e":0.035},{"r":356,"v":1.08,"e":0.035},{"r":359,"v":1.03,"e":0.035},{"r":361,"v":1.15,"e":0.035},{"r":364,"v":1.0,"e":0.035},{"r":369,"v":1.0,"e":0.035},{"r":373,"v":1.03,"e":0.035},{"r":375,"v":0.94,"e":0.035},{"r":378,"v":0.85,"e":0.035},{"r":380,"v":1.03,"e":0.035},{"r":383,"v":1.06,"e":0.035},{"r":385,"v":1.04,"e":0.035},{"r":387,"v":0.96,"e":0.035},{"r":390,"v":0.98,"e":0.035},{"r":392,"v":1.02,"e":0.035},{"r":394,"v":0.96,"e":0.035},{"r":397,"v":1.0,"e":0.035},{"r":401,"v":1.03,"e":0.035},{"r":404,"v":0.9,"e":0.035},{"r":406,"v":1.03,"e":0.035},{"r":408,"v":1.0,"e":0.035},{"r":410,"v":0.92,"e":0.035},{"r":411,"v":1.0,"e":0.035},{"r":413,"v":1.02,"e":0.035},{"r":415,"v":0.98,"e":0.035}],
"Q283":[{"r":266,"v":1.15,"e":0.06},{"r":268,"v":1.29,"e":0.04},{"r":270,"v":1.34,"e":0.04},{"r":272,"v":1.29,"e":0.04},{"r":275,"v":1.25,"e":0.04},{"r":278,"v":1.31,"e":0.04},{"r":281,"v":1.44,"e":0.04},{"r":284,"v":1.38,"e":0.04},{"r":286,"v":1.32,"e":0.04},{"r":289,"v":1.21,"e":0.04},{"r":292,"v":1.09,"e":0.04},{"r":294,"v":1.21,"e":0.04},{"r":296,"v":1.26,"e":0.04},{"r":298,"v":1.34,"e":0.04},{"r":301,"v":1.35,"e":0.04},{"r":303,"v":1.38,"e":0.04},{"r":306,"v":1.24,"e":0.05},{"r":309,"v":1.42,"e":0.04},{"r":311,"v":1.32,"e":0.05},{"r":313,"v":1.38,"e":0.04},{"r":315,"v":1.44,"e":0.04},{"r":317,"v":1.71,"e":0.08},{"r":319,"v":1.53,"e":0.06},{"r":321,"v":1.35,"e":0.05},{"r":323,"v":1.76,"e":0.22},{"r":324,"v":1.35,"e":0.15},{"r":326,"v":1.71,"e":0.12},{"r":328,"v":1.88,"e":0.15},{"r":329,"v":1.47,"e":0.15},{"r":330,"v":1.71,"e":0.2},{"r":331,"v":1.53,"e":0.15},{"r":333,"v":1.76,"e":0.2},{"r":335,"v":1.91,"e":0.18},{"r":336,"v":1.47,"e":0.12},{"r":338,"v":1.71,"e":0.1},{"r":339,"v":1.65,"e":0.06},{"r":341,"v":1.56,"e":0.06},{"r":342,"v":1.47,"e":0.04},{"r":344,"v":1.36,"e":0.04},{"r":347,"v":1.41,"e":0.04},{"r":349,"v":1.38,"e":0.04},{"r":351,"v":1.31,"e":0.04},{"r":357,"v":1.59,"e":0.04},{"r":360,"v":1.47,"e":0.04},{"r":362,"v":1.44,"e":0.04},{"r":364,"v":1.38,"e":0.05},{"r":366,"v":1.41,"e":0.04},{"r":370,"v":1.16,"e":0.04},{"r":373,"v":1.29,"e":0.04},{"r":375,"v":1.24,"e":0.04},{"r":378,"v":1.12,"e":0.06},{"r":380,"v":1.35,"e":0.04},{"r":382,"v":1.38,"e":0.04},{"r":384,"v":1.36,"e":0.04},{"r":387,"v":1.32,"e":0.04},{"r":389,"v":1.26,"e":0.04},{"r":391,"v":1.35,"e":0.04},{"r":393,"v":1.26,"e":0.04},{"r":395,"v":1.34,"e":0.04},{"r":398,"v":1.36,"e":0.04},{"r":400,"v":1.32,"e":0.04},{"r":402,"v":1.26,"e":0.04},{"r":404,"v":1.18,"e":0.04},{"r":407,"v":1.38,"e":0.04},{"r":409,"v":1.35,"e":0.04},{"r":410,"v":1.25,"e":0.04},{"r":411,"v":1.38,"e":0.04},{"r":413,"v":1.3,"e":0.04},{"r":415,"v":1.28,"e":0.04}],
"Q278":[{"r":266,"v":2.03,"e":0.15},{"r":267,"v":2.18,"e":0.08},{"r":270,"v":2.21,"e":0.08},{"r":272,"v":1.85,"e":0.08},{"r":273,"v":2.18,"e":0.08},{"r":275,"v":2.35,"e":0.08},{"r":277,"v":2.21,"e":0.08},{"r":278,"v":2.06,"e":0.08},{"r":281,"v":2.35,"e":0.08},{"r":283,"v":2.24,"e":0.08},{"r":288,"v":2.12,"e":0.08},{"r":292,"v":2.0,"e":0.08},{"r":293,"v":2.09,"e":0.08},{"r":295,"v":2.26,"e":0.08},{"r":298,"v":2.12,"e":0.08},{"r":300,"v":2.35,"e":0.08},{"r":303,"v":2.21,"e":0.08},{"r":307,"v":2.0,"e":0.08},{"r":311,"v":1.91,"e":0.08},{"r":312,"v":2.82,"e":0.25},{"r":313,"v":2.44,"e":0.2},{"r":315,"v":2.18,"e":0.15},{"r":317,"v":2.85,"e":0.3},{"r":318,"v":1.97,"e":0.2},{"r":321,"v":1.91,"e":0.12},{"r":322,"v":1.82,"e":0.15},{"r":324,"v":2.15,"e":0.1},{"r":325,"v":2.5,"e":0.2},{"r":326,"v":2.32,"e":0.25},{"r":327,"v":1.68,"e":0.15},{"r":328,"v":2.06,"e":0.15},{"r":329,"v":1.53,"e":0.15},{"r":330,"v":1.76,"e":0.1},{"r":332,"v":1.5,"e":0.15},{"r":333,"v":1.53,"e":0.15},{"r":334,"v":2.21,"e":0.3},{"r":336,"v":2.06,"e":0.12},{"r":337,"v":1.85,"e":0.12},{"r":339,"v":2.21,"e":0.12},{"r":340,"v":2.35,"e":0.1},{"r":342,"v":1.97,"e":0.15},{"r":344,"v":2.21,"e":0.1},{"r":345,"v":2.12,"e":0.08},{"r":347,"v":1.94,"e":0.08},{"r":348,"v":2.18,"e":0.08},{"r":351,"v":2.29,"e":0.08},{"r":357,"v":2.21,"e":0.08},{"r":359,"v":2.09,"e":0.1},{"r":361,"v":2.5,"e":0.15},{"r":362,"v":2.44,"e":0.08},{"r":364,"v":2.74,"e":0.25},{"r":366,"v":2.26,"e":0.15},{"r":368,"v":2.41,"e":0.08},{"r":369,"v":2.21,"e":0.08},{"r":372,"v":2.44,"e":0.08},{"r":375,"v":2.74,"e":0.15},{"r":376,"v":2.44,"e":0.08},{"r":378,"v":2.21,"e":0.08},{"r":379,"v":2.06,"e":0.12},{"r":381,"v":2.21,"e":0.08},{"r":382,"v":2.5,"e":0.08},{"r":384,"v":2.21,"e":0.08},{"r":385,"v":2.38,"e":0.08},{"r":387,"v":2.26,"e":0.08},{"r":389,"v":2.32,"e":0.08},{"r":391,"v":2.32,"e":0.08},{"r":392,"v":2.44,"e":0.08},{"r":395,"v":2.26,"e":0.08},{"r":397,"v":2.15,"e":0.08},{"r":398,"v":1.91,"e":0.1},{"r":400,"v":2.74,"e":0.2},{"r":401,"v":2.5,"e":0.15},{"r":402,"v":2.03,"e":0.08},{"r":404,"v":1.85,"e":0.08},{"r":406,"v":2.65,"e":0.2},{"r":407,"v":2.44,"e":0.15},{"r":408,"v":2.21,"e":0.08},{"r":410,"v":2.44,"e":0.08},{"r":411,"v":2.56,"e":0.08},{"r":413,"v":2.4,"e":0.08},{"r":415,"v":2.3,"e":0.08}]
},
"columns":3,
"bounds":"flush",
"spacing":{"row":5,"column":4},
"concat":[
{"width":337,"height":170,"layer":[
{"data":{"name":"G298"},"encoding":{"x":{"field":"r","type":"quantitative","scale":{"domain":[265,415]},"axis":{"values":[280,300,320,340,360,380,400],"labels":false,"title":null}},"y":{"field":"v","type":"quantitative","scale":{"domain":[0,3]},"axis":{"values":[0.5,1,1.5,2,2.5],"labelExpr":"datum.value % 1 === 0 ? format(datum.value, 'd') : ''","title":null}}},
"layer":[{"mark":"line"},{"mark":{"type":"errorbar","ticks":{"size":7},"color":"black","thickness":1.5,"clip":true},"encoding":{"yError":{"field":"e"}}}]},
{"data":{"values":[{"lab":"298 K"}]},"mark":{"type":"text","align":"right","fontSize":27},"encoding":{"x":{"datum":412.5,"type":"quantitative"},"y":{"datum":2.63,"type":"quantitative"},"text":{"field":"lab"}}},
{"data":{"values":[{"lab":"G298S"}]},"mark":{"type":"text","align":"right","fontSize":30,"color":"#e8213c"},"encoding":{"x":{"datum":343.4,"type":"quantitative"},"y":{"datum":3.42,"type":"quantitative"},"text":{"field":"lab"}}},
{"data":{"values":[{"lab":"/ WT"}]},"mark":{"type":"text","align":"left","fontSize":30},"encoding":{"x":{"datum":345.6,"type":"quantitative"},"y":{"datum":3.42,"type":"quantitative"},"text":{"field":"lab"}}}]},
{"width":337,"height":170,"layer":[
{"data":{"name":"M298"},"encoding":{"x":{"field":"r","type":"quantitative","scale":{"domain":[265,415]},"axis":{"values":[280,300,320,340,360,380,400],"labels":false,"title":null}},"y":{"field":"v","type":"quantitative","scale":{"domain":[0,3]},"axis":{"values":[0.5,1,1.5,2,2.5],"labels":false,"title":null}}},
"layer":[{"mark":"line"},{"mark":{"type":"errorbar","ticks":{"size":7},"color":"black","thickness":1.5,"clip":true},"encoding":{"yError":{"field":"e"}}}]},
{"data":{"values":[{"lab":"M337V"}]},"mark":{"type":"text","align":"right","fontSize":30,"color":"#3a56a6"},"encoding":{"x":{"datum":342.1,"type":"quantitative"},"y":{"datum":3.42,"type":"quantitative"},"text":{"field":"lab"}}},
{"data":{"values":[{"lab":"/ WT"}]},"mark":{"type":"text","align":"left","fontSize":30},"encoding":{"x":{"datum":345.2,"type":"quantitative"},"y":{"datum":3.42,"type":"quantitative"},"text":{"field":"lab"}}}]},
{"width":337,"height":170,"layer":[
{"data":{"name":"Q298"},"encoding":{"x":{"field":"r","type":"quantitative","scale":{"domain":[265,415]},"axis":{"values":[280,300,320,340,360,380,400],"labels":false,"title":null}},"y":{"field":"v","type":"quantitative","scale":{"domain":[0,3]},"axis":{"values":[0.5,1,1.5,2,2.5],"labels":false,"title":null}}},
"layer":[{"mark":"line"},{"mark":{"type":"errorbar","ticks":{"size":7},"color":"black","thickness":1.5,"clip":true},"encoding":{"yError":{"field":"e"}}}]},
{"data":{"values":[{"lab":"Q331K"}]},"mark":{"type":"text","align":"right","fontSize":30,"color":"#6bbd45"},"encoding":{"x":{"datum":340.1,"type":"quantitative"},"y":{"datum":3.42,"type":"quantitative"},"text":{"field":"lab"}}},
{"data":{"values":[{"lab":"/ WT"}]},"mark":{"type":"text","align":"left","fontSize":30},"encoding":{"x":{"datum":342.8,"type":"quantitative"},"y":{"datum":3.42,"type":"quantitative"},"text":{"field":"lab"}}}]},
{"width":337,"height":170,"layer":[
{"data":{"name":"G293"},"encoding":{"x":{"field":"r","type":"quantitative","scale":{"domain":[265,415]},"axis":{"values":[280,300,320,340,360,380,400],"labels":false,"title":null}},"y":{"field":"v","type":"quantitative","scale":{"domain":[0,3]},"axis":{"values":[0.5,1,1.5,2,2.5],"labelExpr":"datum.value % 1 === 0 ? format(datum.value, 'd') : ''","title":null}}},
"layer":[{"mark":"line"},{"mark":{"type":"errorbar","ticks":{"size":7},"color":"black","thickness":1.5,"clip":true},"encoding":{"yError":{"field":"e"}}}]},
{"data":{"values":[{"lab":"293 K"}]},"mark":{"type":"text","align":"right","fontSize":27},"encoding":{"x":{"datum":412.5,"type":"quantitative"},"y":{"datum":2.63,"type":"quantitative"},"text":{"field":"lab"}}}]},
{"width":337,"height":170,"layer":[
{"data":{"name":"M293"},"encoding":{"x":{"field":"r","type":"quantitative","scale":{"domain":[265,415]},"axis":{"values":[280,300,320,340,360,380,400],"labels":false,"title":null}},"y":{"field":"v","type":"quantitative","scale":{"domain":[0,3]},"axis":{"values":[0.5,1,1.5,2,2.5],"labels":false,"title":null}}},
"layer":[{"mark":"line"},{"mark":{"type":"errorbar","ticks":{"size":7},"color":"black","thickness":1.5,"clip":true},"encoding":{"yError":{"field":"e"}}}]}]},
{"width":337,"height":170,"layer":[
{"data":{"name":"Q293"},"encoding":{"x":{"field":"r","type":"quantitative","scale":{"domain":[265,415]},"axis":{"values":[280,300,320,340,360,380,400],"labels":false,"title":null}},"y":{"field":"v","type":"quantitative","scale":{"domain":[0,3]},"axis":{"values":[0.5,1,1.5,2,2.5],"labels":false,"title":null}}},
"layer":[{"mark":"line"},{"mark":{"type":"errorbar","ticks":{"size":7},"color":"black","thickness":1.5,"clip":true},"encoding":{"yError":{"field":"e"}}}]}]},
{"width":337,"height":170,"layer":[
{"data":{"name":"G288"},"encoding":{"x":{"field":"r","type":"quantitative","scale":{"domain":[265,415]},"axis":{"values":[280,300,320,340,360,380,400],"labels":false,"title":null}},"y":{"field":"v","type":"quantitative","scale":{"domain":[0,3]},"axis":{"values":[0.5,1,1.5,2,2.5],"labelExpr":"datum.value % 1 === 0 ? format(datum.value, 'd') : ''","title":"Intensity ratio","titleFontSize":43,"titlePadding":13,"titleY":77}}},
"layer":[{"mark":"line"},{"mark":{"type":"errorbar","ticks":{"size":7},"color":"black","thickness":1.5,"clip":true},"encoding":{"yError":{"field":"e"}}}]},
{"data":{"values":[{"lab":"288 K"}]},"mark":{"type":"text","align":"right","fontSize":27},"encoding":{"x":{"datum":412.5,"type":"quantitative"},"y":{"datum":2.63,"type":"quantitative"},"text":{"field":"lab"}}}]},
{"width":337,"height":170,"layer":[
{"data":{"name":"M288"},"encoding":{"x":{"field":"r","type":"quantitative","scale":{"domain":[265,415]},"axis":{"values":[280,300,320,340,360,380,400],"labels":false,"title":null}},"y":{"field":"v","type":"quantitative","scale":{"domain":[0,3]},"axis":{"values":[0.5,1,1.5,2,2.5],"labels":false,"title":null}}},
"layer":[{"mark":"line"},{"mark":{"type":"errorbar","ticks":{"size":7},"color":"black","thickness":1.5,"clip":true},"encoding":{"yError":{"field":"e"}}}]}]},
{"width":337,"height":170,"layer":[
{"data":{"name":"Q288"},"encoding":{"x":{"field":"r","type":"quantitative","scale":{"domain":[265,415]},"axis":{"values":[280,300,320,340,360,380,400],"labels":false,"title":null}},"y":{"field":"v","type":"quantitative","scale":{"domain":[0,3]},"axis":{"values":[0.5,1,1.5,2,2.5],"labels":false,"title":null}}},
"layer":[{"mark":"line"},{"mark":{"type":"errorbar","ticks":{"size":7},"color":"black","thickness":1.5,"clip":true},"encoding":{"yError":{"field":"e"}}}]}]},
{"width":337,"height":170,"layer":[
{"data":{"name":"G283"},"encoding":{"x":{"field":"r","type":"quantitative","scale":{"domain":[265,415]},"axis":{"values":[280,300,320,340,360,380,400],"labels":false,"title":null}},"y":{"field":"v","type":"quantitative","scale":{"domain":[0,3]},"axis":{"values":[0.5,1,1.5,2,2.5],"labelExpr":"datum.value % 1 === 0 ? format(datum.value, 'd') : ''","title":null}}},
"layer":[{"mark":"line"},{"mark":{"type":"errorbar","ticks":{"size":7},"color":"black","thickness":1.5,"clip":true},"encoding":{"yError":{"field":"e"}}}]},
{"data":{"values":[{"lab":"283 K"}]},"mark":{"type":"text","align":"right","fontSize":27},"encoding":{"x":{"datum":412.5,"type":"quantitative"},"y":{"datum":2.63,"type":"quantitative"},"text":{"field":"lab"}}}]},
{"width":337,"height":170,"layer":[
{"data":{"name":"M283"},"encoding":{"x":{"field":"r","type":"quantitative","scale":{"domain":[265,415]},"axis":{"values":[280,300,320,340,360,380,400],"labels":false,"title":null}},"y":{"field":"v","type":"quantitative","scale":{"domain":[0,3]},"axis":{"values":[0.5,1,1.5,2,2.5],"labels":false,"title":null}}},
"layer":[{"mark":"line"},{"mark":{"type":"errorbar","ticks":{"size":7},"color":"black","thickness":1.5,"clip":true},"encoding":{"yError":{"field":"e"}}}]}]},
{"width":337,"height":170,"layer":[
{"data":{"name":"Q283"},"encoding":{"x":{"field":"r","type":"quantitative","scale":{"domain":[265,415]},"axis":{"values":[280,300,320,340,360,380,400],"labels":false,"title":null}},"y":{"field":"v","type":"quantitative","scale":{"domain":[0,3]},"axis":{"values":[0.5,1,1.5,2,2.5],"labels":false,"title":null}}},
"layer":[{"mark":"line"},{"mark":{"type":"errorbar","ticks":{"size":7},"color":"black","thickness":1.5,"clip":true},"encoding":{"yError":{"field":"e"}}}]}]},
{"width":337,"height":170,"layer":[
{"data":{"name":"G278"},"encoding":{"x":{"field":"r","type":"quantitative","scale":{"domain":[265,415]},"axis":{"values":[280,300,320,340,360,380,400],"labelExpr":"datum.value % 40 === 0 ? datum.label : ''","title":null}},"y":{"field":"v","type":"quantitative","scale":{"domain":[0,3]},"axis":{"values":[0.5,1,1.5,2,2.5],"labelExpr":"datum.value % 1 === 0 ? format(datum.value, 'd') : ''","title":null}}},
"layer":[{"mark":"line"},{"mark":{"type":"errorbar","ticks":{"size":7},"color":"black","thickness":1.5,"clip":true},"encoding":{"yError":{"field":"e"}}}]},
{"data":{"values":[{"lab":"278 K"}]},"mark":{"type":"text","align":"right","fontSize":27},"encoding":{"x":{"datum":412.5,"type":"quantitative"},"y":{"datum":2.63,"type":"quantitative"},"text":{"field":"lab"}}}]},
{"width":337,"height":170,"layer":[
{"data":{"name":"M278"},"encoding":{"x":{"field":"r","type":"quantitative","scale":{"domain":[265,415]},"axis":{"values":[280,300,320,340,360,380,400],"labelExpr":"datum.value % 40 === 0 ? datum.label : ''","title":"Residue number","titleFontSize":41,"titleX":152,"titlePadding":5}},"y":{"field":"v","type":"quantitative","scale":{"domain":[0,3]},"axis":{"values":[0.5,1,1.5,2,2.5],"labels":false,"title":null}}},
"layer":[{"mark":"line"},{"mark":{"type":"errorbar","ticks":{"size":7},"color":"black","thickness":1.5,"clip":true},"encoding":{"yError":{"field":"e"}}}]}]},
{"width":337,"height":170,"layer":[
{"data":{"name":"Q278"},"encoding":{"x":{"field":"r","type":"quantitative","scale":{"domain":[265,415]},"axis":{"values":[280,300,320,340,360,380,400],"labelExpr":"datum.value % 40 === 0 ? datum.label : ''","title":null}},"y":{"field":"v","type":"quantitative","scale":{"domain":[0,3]},"axis":{"values":[0.5,1,1.5,2,2.5],"labels":false,"title":null}}},
"layer":[{"mark":"line"},{"mark":{"type":"errorbar","ticks":{"size":7},"color":"black","thickness":1.5,"clip":true},"encoding":{"yError":{"field":"e"}}}]}]}
]
}
